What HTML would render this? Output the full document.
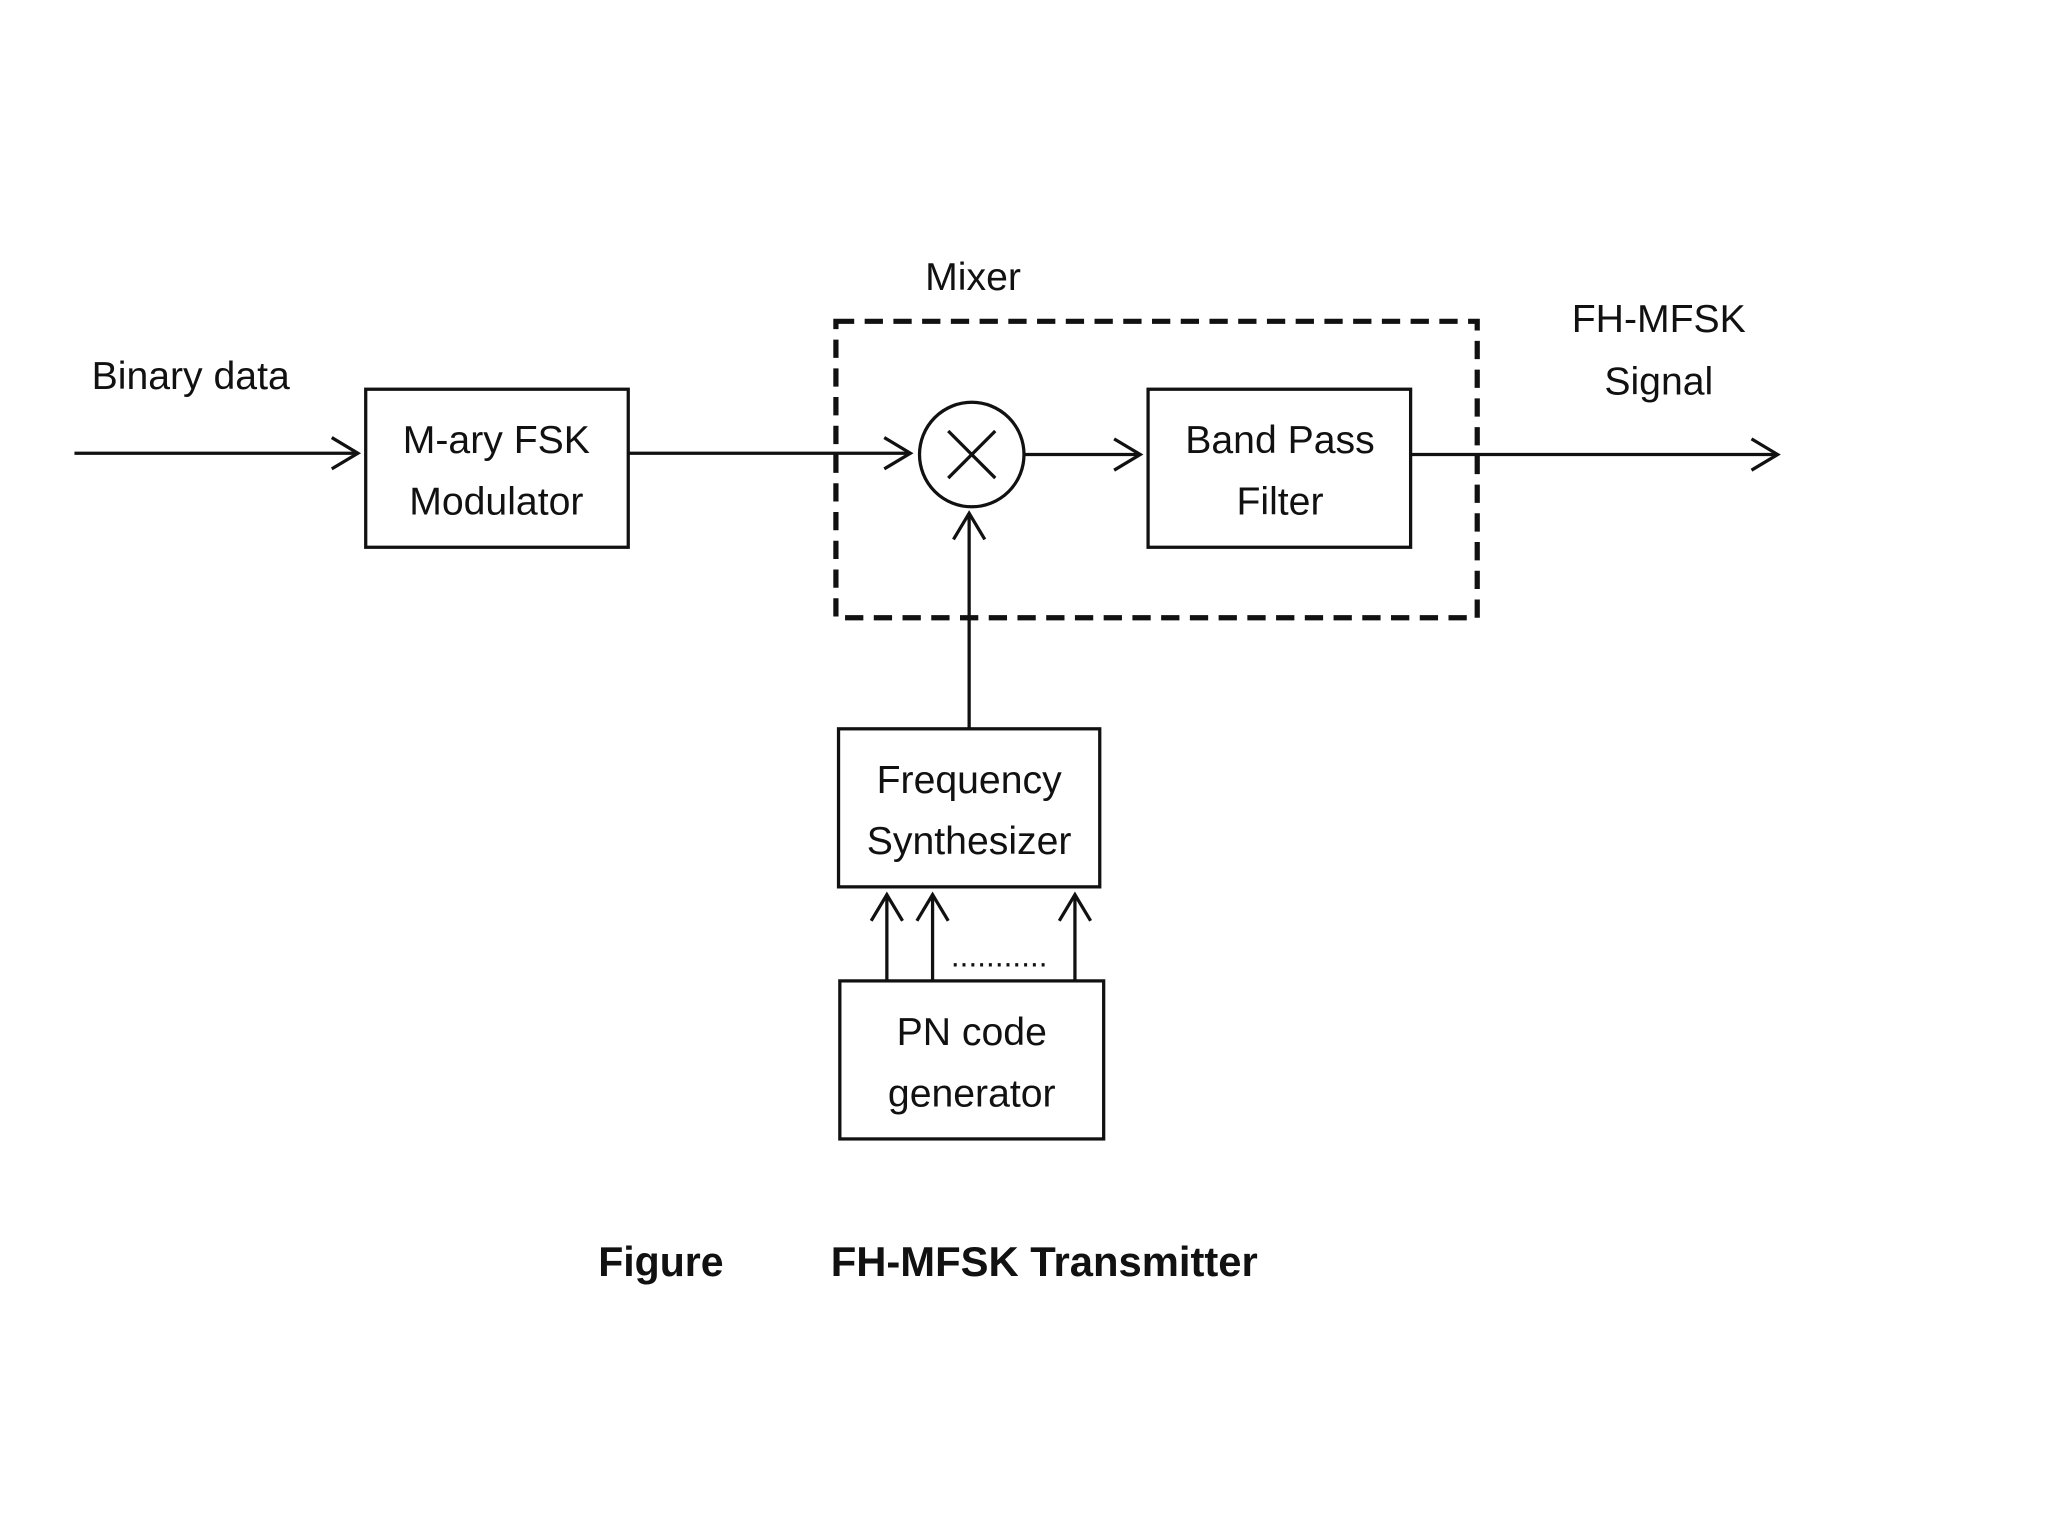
<!DOCTYPE html>
<html><head><meta charset="utf-8"><style>
html,body{margin:0;padding:0;background:#fff;}
svg{display:block;}
text{font-family:"Liberation Sans",sans-serif;fill:#111;}
</style></head><body>
<svg width="2048" height="1536" viewBox="0 0 1568 1176" xmlns="http://www.w3.org/2000/svg">
<rect width="1568" height="1176" fill="#fff"/>
<g stroke="#111" stroke-width="2.5" fill="none">
<line x1="57" y1="347" x2="274" y2="347"/><polyline points="254,335 274,347 254,359"/>
<rect x="280" y="298" width="201" height="121"/>
<line x1="481" y1="347" x2="697" y2="347"/><polyline points="677,335 697,347 677,359"/>
<circle cx="744" cy="348" r="40"/>
<line x1="726" y1="330" x2="762" y2="366"/><line x1="762" y1="330" x2="726" y2="366"/>
<line x1="785" y1="348" x2="873" y2="348"/><polyline points="853,336 873,348 853,360"/>
<rect x="879" y="298" width="201" height="121"/>
<line x1="1080" y1="348" x2="1361" y2="348"/><polyline points="1341,336 1361,348 1341,360"/>
<line x1="742" y1="558" x2="742" y2="393"/><polyline points="730,413 742,393 754,413"/>
<rect x="642" y="558" width="200" height="121"/>
<rect x="643" y="751" width="202" height="121"/>
<line x1="679" y1="751" x2="679" y2="685"/><polyline points="667,705 679,685 691,705"/>
<line x1="714" y1="751" x2="714" y2="685"/><polyline points="702,705 714,685 726,705"/>
<line x1="823" y1="751" x2="823" y2="685"/><polyline points="811,705 823,685 835,705"/>
<rect x="640" y="246" width="491" height="227" stroke-width="4" stroke-dasharray="14,8"/>
</g>
<g font-size="30" text-anchor="middle">
<text x="146" y="298">Binary data</text>
<text x="380" y="347">M-ary FSK</text>
<text x="380" y="394">Modulator</text>
<text x="745" y="222">Mixer</text>
<text x="980" y="347">Band Pass</text>
<text x="980" y="394">Filter</text>
<text x="1270" y="254">FH-MFSK</text>
<text x="1270" y="302">Signal</text>
<text x="742" y="607">Frequency</text>
<text x="742" y="654">Synthesizer</text>
<text x="744" y="800">PN code</text>
<text x="744" y="847">generator</text>
</g>
<text x="728" y="740" font-size="24" textLength="74" lengthAdjust="spacing">...........</text>
<text x="458" y="977" font-size="32" font-weight="bold" textLength="96" lengthAdjust="spacingAndGlyphs">Figure</text>
<text x="636" y="977" font-size="32" font-weight="bold" textLength="327" lengthAdjust="spacingAndGlyphs">FH-MFSK Transmitter</text>
</svg>
</body></html>
